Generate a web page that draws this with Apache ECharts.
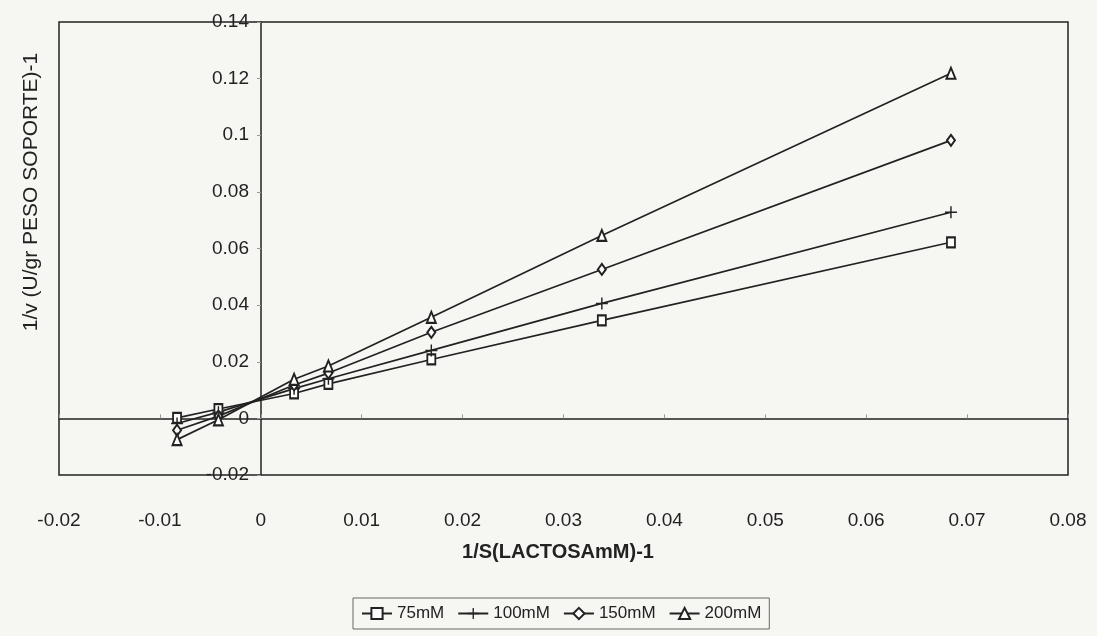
<!DOCTYPE html>
<html>
<head>
<meta charset="utf-8">
<script src="https://cdn.jsdelivr.net/npm/echarts@6/dist/echarts.min.js"></script>
<style>
  html, body { margin: 0; padding: 0; background: #f6f7f3; }
  #chart { width: 1097px; height: 636px; }
</style>
</head>
<body>
<div id="chart"></div>
<script>
// 1/S values (x) and 1/v values for each lactose concentration
const xVals = [-0.0083, -0.0042, 0.0033, 0.0067, 0.0169, 0.0338, 0.0684];
const y75 = [0.0002, 0.0033, 0.0088, 0.0122, 0.0208, 0.0346, 0.0622];
const y100 = [-0.0018, 0.0022, 0.0105, 0.0140, 0.0240, 0.0406, 0.0728];
const y150 = [-0.0042, 0.0008, 0.0118, 0.0160, 0.0304, 0.0526, 0.0982];
const y200 = [-0.0075, -0.0005, 0.0138, 0.0185, 0.0357, 0.0646, 0.1219];

const seriesNames = ["75mM", "100mM", "150mM", "200mM"];
const seriesVals = [y75, y100, y150, y200];

const ink = "#222";
const font = "Liberation Sans";
const plusPath = "path://M4.4,0h1.2v4.4h4.4v1.2h-4.4v4.4h-1.2v-4.4h-4.4v-1.2h4.4z";
const symbols = ["emptyRect", plusPath, "emptyDiamond", "emptyTriangle"];
const symbolSizes = [[8, 10], 12, [8, 11], [9, 11]];

// plot spans -0.02..0.08 over 1009px, so x=0 sits 201.8px right of the grid's left edge
const yAxisOffset = -Math.round(0.02 / 0.1 * 1009);

const makeSeries = (name, vals, i) => ({
    name: name,
    type: "line",
    xAxisIndex: 0,
    data: xVals.map((x, k) => [x, vals[k]]),
    symbol: symbols[i],
    symbolSize: symbolSizes[i],
    showAllSymbol: true,
    lineStyle: { color: ink, width: 1.7 },
    itemStyle: { color: ink, borderWidth: 1.4 },
    emphasis: { disabled: true },
    z: 3
});

const myChart = echarts.init(document.getElementById("chart"));
myChart.setOption({
    backgroundColor: "#f6f7f3",
    animation: false,
    textStyle: { fontFamily: font, color: ink },
    grid: {
        left: 59, top: 22, width: 1009, height: 453,
        show: true, borderColor: ink, borderWidth: 1.5, backgroundColor: "transparent"
    },
    xAxis: [
        {
            type: "value", min: -0.02, max: 0.08, interval: 0.01,
            axisLine: { onZero: true, lineStyle: { color: ink, width: 1.5 } },
            axisTick: { show: true, inside: true, length: 4, lineStyle: { color: "#999" } },
            axisLabel: { show: false },
            splitLine: { show: false }
        },
        {
            type: "value", min: -0.02, max: 0.08, interval: 0.01, position: "bottom",
            axisLine: { show: false, onZero: false },
            axisTick: { show: false },
            axisLabel: { show: true, margin: 36, fontSize: 19, color: ink, fontFamily: font },
            splitLine: { show: false }
        }
    ],
    yAxis: {
        type: "value", min: -0.02, max: 0.14, interval: 0.02,
        position: "left", offset: yAxisOffset,
        axisLine: { onZero: false, lineStyle: { color: ink, width: 1.5 } },
        axisTick: { show: true, length: 4, lineStyle: { color: "#999" } },
        axisLabel: { margin: 12, fontSize: 19, color: ink, fontFamily: font },
        splitLine: { show: false }
    },
    legend: {
        left: 353, top: 598,
        padding: [7, 8, 7, 8],
        borderColor: "#666", borderWidth: 1,
        itemWidth: 30, itemHeight: 14, itemGap: 13,
        textStyle: { fontSize: 17, color: ink, fontFamily: font },
        data: seriesNames
    },
    graphic: [
        {
            type: "text", x: 31, y: 192, rotation: Math.PI / 2,
            style: { text: "1/v (U/gr PESO SOPORTE)-1", fontSize: 21, fill: ink, fontFamily: font,
                     textAlign: "center", textVerticalAlign: "middle" }
        },
        {
            type: "text", x: 558, y: 552,
            style: { text: "1/S(LACTOSAmM)-1", fontSize: 20, fontWeight: "bold", fill: ink, fontFamily: font,
                     textAlign: "center", textVerticalAlign: "middle" }
        }
    ],
    series: seriesNames.map((n, i) => makeSeries(n, seriesVals[i], i))
});
</script>
</body>
</html>
